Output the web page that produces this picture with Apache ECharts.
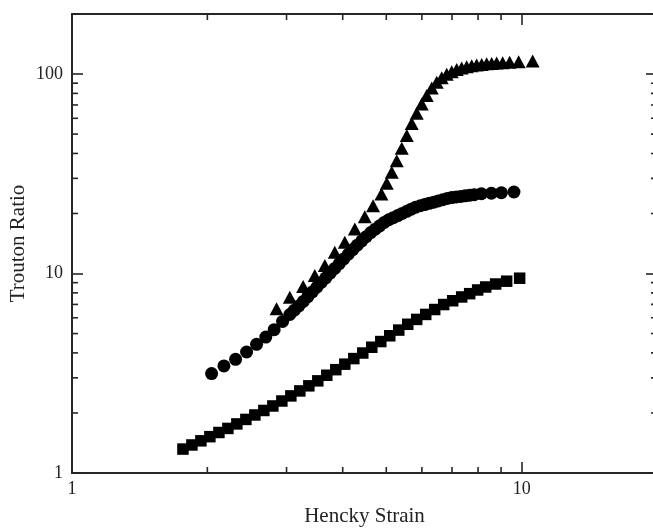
<!DOCTYPE html>
<html>
<head>
<meta charset="utf-8">
<title>Trouton Ratio</title>
<script src="https://cdn.jsdelivr.net/npm/echarts@6/dist/echarts.min.js"></script>
<style>
	html, body { margin: 0; padding: 0; background: #fff; }
	#main { width: 653px; height: 529px; }
</style>
</head>
<body>
<div id="main"></div>
<script>
// squares (lowest curve)
var squareX = [1.765, 1.848, 1.935, 2.026, 2.122, 2.222, 2.326, 2.436, 2.551, 2.671, 2.797, 2.929, 3.067, 3.211, 3.363, 3.521, 3.687, 3.861, 4.043, 4.234, 4.433, 4.642, 4.861, 5.090, 5.330, 5.581, 5.843, 6.119, 6.407, 6.709, 7.025, 7.356, 7.663, 7.983, 8.318, 8.754, 9.261, 9.898];
var squareY = [1.318, 1.382, 1.450, 1.521, 1.596, 1.673, 1.762, 1.856, 1.954, 2.058, 2.168, 2.296, 2.435, 2.579, 2.735, 2.897, 3.090, 3.296, 3.512, 3.746, 3.995, 4.271, 4.560, 4.875, 5.206, 5.566, 5.888, 6.237, 6.600, 6.990, 7.303, 7.630, 7.925, 8.270, 8.560, 8.861, 9.152, 9.474];
// circles (middle curve)
var circleX = [2.044, 2.177, 2.311, 2.445, 2.573, 2.698, 2.816, 2.940, 3.051, 3.122, 3.195, 3.269, 3.345, 3.423, 3.503, 3.584, 3.668, 3.753, 3.841, 3.930, 4.022, 4.115, 4.211, 4.309, 4.410, 4.512, 4.617, 4.725, 4.835, 4.948, 5.063, 5.181, 5.302, 5.425, 5.552, 5.681, 5.813, 5.949, 6.087, 6.229, 6.375, 6.523, 6.675, 6.831, 6.990, 7.153, 7.320, 7.490, 7.664, 7.843, 8.136, 8.564, 9.014, 9.614];
var circleY = [3.152, 3.440, 3.715, 4.042, 4.416, 4.803, 5.230, 5.754, 6.233, 6.548, 6.878, 7.250, 7.656, 8.083, 8.535, 9.013, 9.517, 10.05, 10.61, 11.20, 11.83, 12.49, 13.19, 13.87, 14.57, 15.30, 16.04, 16.68, 17.34, 18.03, 18.60, 19.05, 19.53, 20.01, 20.50, 21.01, 21.52, 21.86, 22.17, 22.48, 22.79, 23.12, 23.44, 23.77, 24.03, 24.19, 24.36, 24.52, 24.69, 24.86, 25.15, 25.26, 25.41, 25.62];
// triangles (upper curve)
var triangleX = [2.851, 3.051, 3.266, 3.467, 3.650, 3.841, 4.043, 4.256, 4.479, 4.673, 4.878, 5.012, 5.142, 5.275, 5.412, 5.553, 5.696, 5.843, 5.995, 6.150, 6.310, 6.473, 6.641, 6.813, 6.990, 7.171, 7.356, 7.547, 7.743, 7.943, 8.149, 8.360, 8.577, 8.799, 9.074, 9.404, 9.848, 10.579];
var triangleY = [6.660, 7.613, 8.610, 9.772, 10.965, 12.78, 14.34, 16.73, 19.28, 21.88, 25.03, 28.35, 32.17, 36.81, 42.41, 49.15, 56.43, 63.68, 70.79, 78.07, 85.11, 90.89, 95.72, 99.66, 102.8, 105.3, 107.3, 108.8, 110.0, 111.1, 111.8, 112.5, 113.0, 113.5, 114.0, 114.6, 115.2, 116.1];

// axis ranges and minor tick values
var xRange = [1, 20];
var yRange = [1, 200];
var xMinorTicks = [2, 3, 4, 5, 6, 7, 8, 9];
var yMinorTicks = [2, 3, 4, 5, 6, 7, 8, 9, 20, 30, 40, 50, 60, 70, 80, 90];

var axisColor = '#262626';
var serif = '"Liberation Serif", "DejaVu Serif", serif';

function pairs(xs, ys) {
	var arr = [];
	for (var i = 0; i < xs.length; i++) {
		arr.push([xs[i], ys[i]]);
	}
	return arr;
}

// only label the decades
function decadeLabel(v) {
	var l = Math.log(v) / Math.LN10;
	return Math.abs(l - Math.round(l)) < 1e-6 ? String(Math.round(v)) : '';
}

function logAxis(range, pos, extra) {
	var ax = {
		type: 'log',
		logBase: 10,
		min: range[0],
		max: range[1],
		position: pos,
		axisLine: { show: true, onZero: false, lineStyle: { color: axisColor, width: 2 } },
		axisTick: { show: true, inside: true, length: 11, lineStyle: { color: axisColor, width: 1.6 } },
		axisLabel: { show: false },
		splitLine: { show: false },
		minorTick: { show: false },
		minorSplitLine: { show: false }
	};
	for (var k in extra) ax[k] = extra[k];
	return ax;
}

var myChart = echarts.init(document.getElementById('main'), null, { renderer: 'canvas' });

var tickLine = function(x1, y1, x2, y2) {
	return {
		type: 'line',
		shape: { x1: x1, y1: y1, x2: x2, y2: y2 },
		style: { stroke: axisColor, lineWidth: 1.6 }
	};
};

var markerStyle = { color: '#000', opacity: 1 };

var option = {
	animation: false,
	backgroundColor: '#fff',
	grid: {
		left: 72,
		top: 14,
		right: -4,
		bottom: 56,
		containLabel: false,
		outerBoundsMode: 'none'
	},
	xAxis: [
		logAxis(xRange, 'bottom', {
			axisLabel: {
				show: true, margin: 7, color: '#222', fontFamily: serif, fontSize: 18,
				formatter: decadeLabel, showMaxLabel: false
			},
			name: 'Hencky Strain',
			nameLocation: 'middle',
			nameGap: 33,
			nameMoveOverlap: false,
			nameTextStyle: { color: '#222', fontFamily: serif, fontSize: 21 }
		}),
		logAxis(xRange, 'top', {})
	],
	yAxis: [
		logAxis(yRange, 'left', {
			axisLabel: {
				show: true, margin: 9, color: '#222', fontFamily: serif, fontSize: 18,
				formatter: decadeLabel, showMaxLabel: false
			},
			name: 'Trouton Ratio',
			nameLocation: 'middle',
			nameGap: 43,
			nameMoveOverlap: false,
			nameTextStyle: { color: '#222', fontFamily: serif, fontSize: 21 }
		}),
		logAxis(yRange, 'right', {})
	],
	series: [
		{
			// minor ticks on bottom and top
			type: 'custom',
			silent: true,
			clip: false,
			xAxisIndex: 0,
			yAxisIndex: 0,
			data: xMinorTicks.map(function(v) { return [v, yRange[0]]; }),
			renderItem: function(params, api) {
				var cs = params.coordSys;
				var px = api.coord([api.value(0), yRange[0]])[0];
				return {
					type: 'group',
					children: [
						tickLine(px, cs.y + cs.height, px, cs.y + cs.height - 6),
						tickLine(px, cs.y, px, cs.y + 6)
					]
				};
			}
		},
		{
			// minor ticks on left and right
			type: 'custom',
			silent: true,
			clip: false,
			xAxisIndex: 0,
			yAxisIndex: 0,
			data: yMinorTicks.map(function(v) { return [xRange[0], v]; }),
			renderItem: function(params, api) {
				var cs = params.coordSys;
				var py = api.coord([xRange[0], api.value(1)])[1];
				return {
					type: 'group',
					children: [
						tickLine(cs.x, py, cs.x + 6, py),
						tickLine(cs.x + cs.width, py, cs.x + cs.width - 6, py)
					]
				};
			}
		},
		{
			name: 'squares',
			type: 'scatter',
			symbol: 'rect',
			symbolSize: 11.5,
			itemStyle: markerStyle,
			data: pairs(squareX, squareY)
		},
		{
			name: 'circles',
			type: 'scatter',
			symbol: 'circle',
			symbolSize: 13,
			itemStyle: markerStyle,
			data: pairs(circleX, circleY)
		},
		{
			name: 'triangles',
			type: 'scatter',
			symbol: 'triangle',
			symbolSize: [14, 13],
			itemStyle: markerStyle,
			data: pairs(triangleX, triangleY)
		}
	]
};
myChart.setOption(option);
</script>
</body>
</html>
